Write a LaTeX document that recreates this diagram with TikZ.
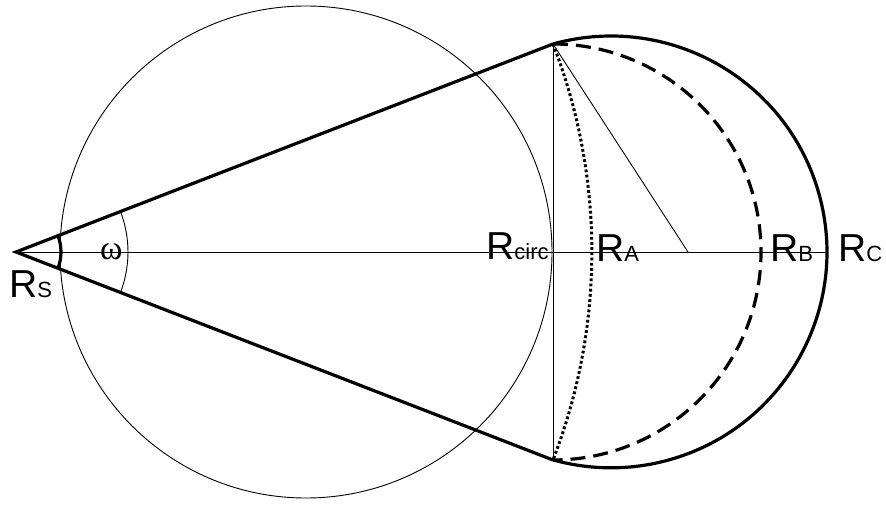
\documentclass[tikz,border=0pt]{standalone}
\usepackage{fontspec}
\setmainfont{Liberation Sans}
\newfontfamily\omegafont{Liberation Serif}
\newcommand{\lbl}[2]{{\fontsize{39}{39}\selectfont #1}{\fontsize{22}{22}\selectfont #2}}
\begin{document}
\begin{tikzpicture}[x=1pt,y=1pt,
  thinline/.style={line width=0.9pt},
  thickline/.style={line width=3.2pt},
  dotline/.style={line width=3pt, dash pattern=on 2.8pt off 2.4pt},
  dashline/.style={line width=3.2pt, dash pattern=on 15pt off 8pt},
  lab/.style={anchor=base west, inner sep=0pt}]
\useasboundingbox (0,0) rectangle (886,504);
\coordinate (S) at (16,252);
\coordinate (T) at (553,460);
\coordinate (B) at (553,44);
\coordinate (O) at (306,252);
\coordinate (E) at (827,252);
\coordinate (P) at (688,252);
% thin circle
\draw[thinline] (O) circle[radius=246];
% axis
\draw[thinline] (S) -- (E);
% vertical chord
\draw[thinline] (T) -- (B);
% slanted line
\draw[thinline] (T) -- (P);
% cone lines
\draw[thickline, line join=miter] (T) -- (S) -- (B);
% small thick arc and omega arc
\draw[thickline] ([shift={(21.17:45)}]S) arc[start angle=21.17, end angle=-21.17, radius=45];
\draw[thinline] ([shift={(21.17:112)}]S) arc[start angle=21.17, end angle=-21.17, radius=112];
% dotted arc
\draw[dotline] (T) arc[start angle=21.17, end angle=-21.17, radius=575.9];
% dashed semicircle
\draw[dashline] (T) arc[start angle=90, end angle=-90, radius=208];
% thick outer arc
\draw[thickline] (T) arc[start angle=105.6, end angle=-105.6, radius=215.9];
% labels
\node[lab] (ls) at (9,207) {\lbl{R}{S}};
\node[lab] (lo) at (100,244) {\omegafont\fontsize{34}{34}\selectfont ω};
\node[lab] (lc) at (486,244) {\lbl{R}{circ}};
\node[lab] (la) at (596,242) {\lbl{R}{A}};
\node[lab] (lb) at (770,242) {\lbl{R}{B}};
\node[lab] (lcc) at (838,243) {\lbl{R}{C}};
\end{tikzpicture}
\end{document}
